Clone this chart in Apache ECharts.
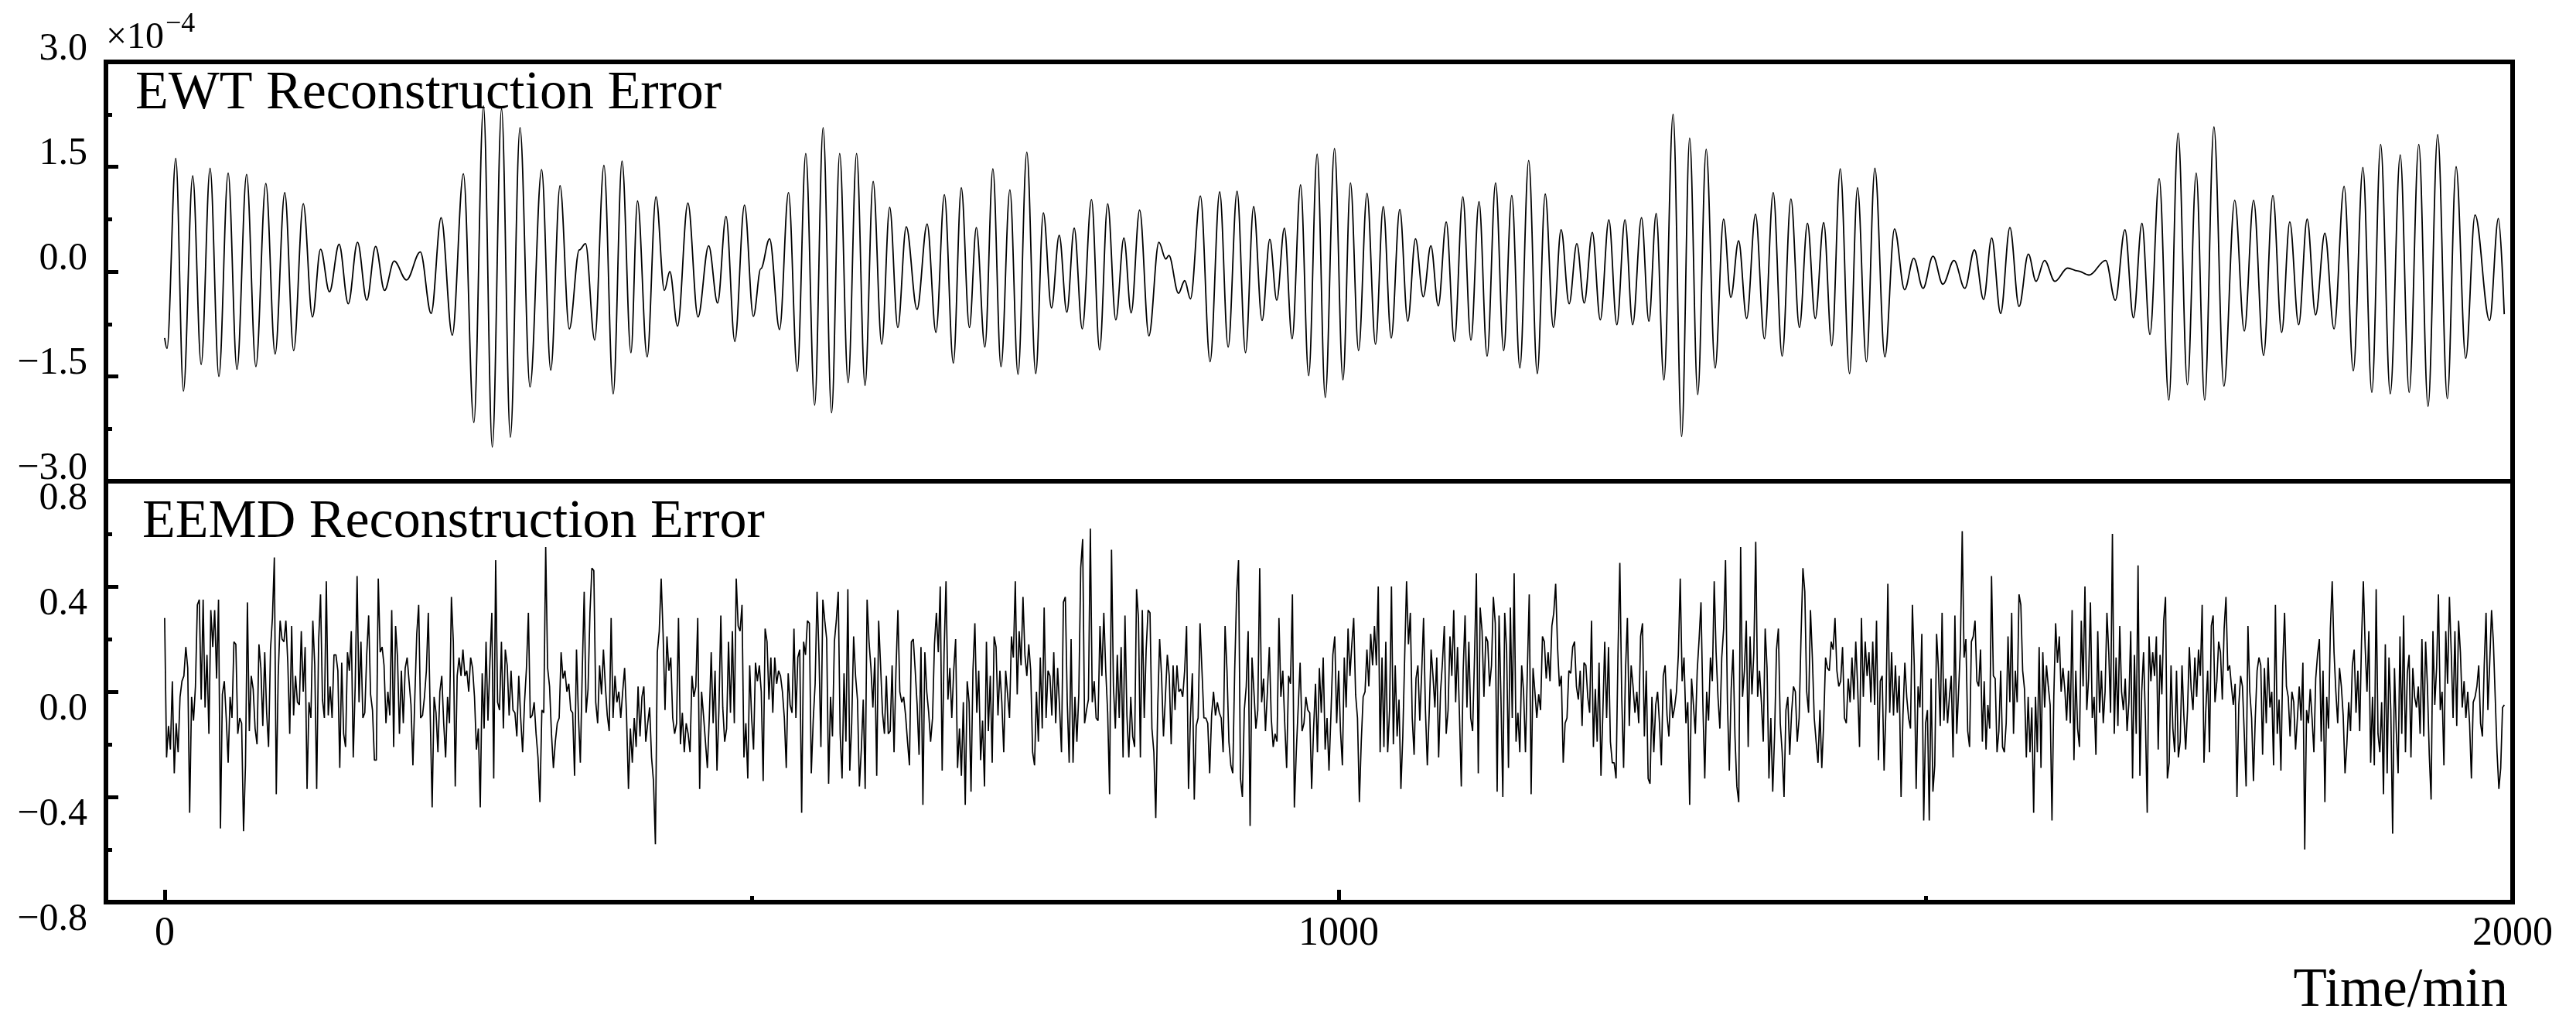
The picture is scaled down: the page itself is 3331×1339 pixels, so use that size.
<!DOCTYPE html>
<html>
<head>
<meta charset="utf-8">
<script src="https://cdn.jsdelivr.net/npm/echarts@6/dist/echarts.min.js"></script>
<style>html,body{margin:0;padding:0;background:#fff}#c{width:3331px;height:1339px}</style>
</head>
<body>
<div id="c"></div>
<script>
// ---- EWT reconstruction error (x1e-4): extrema of the oscillation ----
const ewtTime = [0, 2, 9.5, 16, 23.9, 31.1, 38.7, 46.2, 54.1, 61.6, 69.8, 77.7, 86.2, 94.1, 102.3, 109.9, 118.1, 125.9, 132.8, 140.4, 148.6, 156.4, 164.3, 172.2, 179.7, 187.3, 195.5, 206, 217.8, 227, 235.5, 245, 254.5, 263.4, 271.6, 279.1, 287, 294.5, 302.7, 311.2, 321.1, 328.9, 336.8, 344.7, 353.2, 358.5, 366.3, 374.2, 382.1, 389.6, 397.2, 402.8, 411, 418.5, 425.7, 430.3, 436.9, 445.7, 454.3, 463.4, 471, 478.2, 485.7, 493.9, 501.5, 507.8, 515.3, 523.8, 531.4, 538.9, 546.1, 553.7, 560.9, 568.1, 575, 582.2, 589.4, 596.6, 603.5, 610.8, 617.6, 624.5, 631.7, 640.9, 649.5, 657, 664.2, 671.8, 678.6, 685.5, 691.4, 698.7, 705.5, 712.4, 720, 726.9, 734.4, 742, 748.5, 755.4, 762, 768.5, 774.8, 781.6, 789.5, 796.4, 803.3, 810.2, 817.1, 823.3, 830.5, 838.4, 846.9, 852.8, 855.4, 863.6, 868.9, 873.8, 882.3, 890.5, 898.7, 905.9, 913.5, 920.7, 927.6, 934.8, 941.4, 947.3, 953.8, 960.4, 967.6, 974.5, 981.7, 988.6, 996.5, 1003.7, 1010.1, 1017, 1024.2, 1031.4, 1038, 1044.8, 1052.1, 1058.9, 1065.5, 1072.1, 1078.6, 1084.9, 1091.7, 1098.6, 1105.8, 1112.7, 1119.6, 1126.5, 1133.7, 1140.6, 1147.5, 1154.4, 1161.9, 1169.2, 1176, 1182.9, 1189.5, 1196.4, 1202.9, 1209.2, 1216.1, 1222.9, 1230.2, 1237, 1243.9, 1250.5, 1258, 1264.3, 1270.5, 1277.1, 1284.9, 1292.2, 1299, 1305.9, 1313.1, 1320.7, 1327.9, 1334.1, 1340.7, 1347.6, 1355.1, 1362.7, 1370.2, 1377.8, 1385.3, 1392.5, 1399.4, 1406, 1413.2, 1420.1, 1427.3, 1435.2, 1442, 1449.6, 1456.8, 1465.3, 1473.5, 1482.1, 1489.9, 1497.8, 1506.3, 1514.7, 1524.2, 1533.4, 1541.6, 1549.4, 1556.3, 1563.9, 1571.8, 1579.6, 1587.5, 1594.1, 1601.3, 1610.1, 1621, 1629.5, 1639.3, 1653.4, 1661.6, 1669.8, 1677, 1684.3, 1691.1, 1699, 1707.2, 1715.1, 1723, 1730.5, 1737.7, 1745.6, 1754.1, 1763.3, 1771.5, 1779.4, 1787.9, 1795.8, 1803.3, 1810.2, 1817.8, 1825, 1832.2, 1840.1, 1847.9, 1856.5, 1864.3, 1872.5, 1880.1, 1887.6, 1895.8, 1904.3, 1911.9, 1920.1, 1928, 1936.2, 1944.4, 1951.9, 1960.1, 1968, 1980.4, 1987.9, 1992.9];
const ewtValue = [-0.95, -1.10, 1.62, -1.71, 1.37, -1.33, 1.48, -1.50, 1.41, -1.40, 1.39, -1.36, 1.26, -1.18, 1.13, -1.13, 0.97, -0.65, 0.32, -0.29, 0.39, -0.46, 0.42, -0.41, 0.36, -0.27, 0.15, -0.12, 0.28, -0.60, 0.77, -0.91, 1.40, -2.16, 2.37, -2.51, 2.33, -2.37, 2.06, -1.65, 1.46, -1.41, 1.23, -0.82, 0.31, 0.40, -0.98, 1.52, -1.75, 1.58, -1.16, 1.01, -1.22, 1.07, -0.27, 0.00, -0.78, 0.98, -0.65, 0.37, -0.45, 0.79, -1.00, 0.95, -0.64, 0.04, 0.47, -0.83, 1.13, -1.43, 1.69, -1.91, 2.06, -2.02, 1.69, -1.59, 1.69, -1.63, 1.29, -1.04, 0.92, -0.80, 0.64, -0.54, 0.68, -0.87, 1.10, -1.31, 1.20, -0.80, 0.63, -1.08, 1.47, -1.36, 1.17, -1.47, 1.71, -1.46, 0.84, -0.52, 0.52, -0.58, 0.62, -0.82, 1.03, -1.12, 0.97, -0.69, 0.48, -0.59, 0.88, -0.92, 0.42, 0.18, 0.23, -0.31, -0.13, -0.39, 1.08, -1.29, 1.14, -1.08, 1.15, -1.16, 0.93, -0.70, 0.46, -0.41, 0.62, -0.96, 1.24, -1.49, 1.68, -1.80, 1.76, -1.55, 1.27, -1.13, 1.12, -1.04, 0.93, -0.95, 0.89, -0.71, 0.47, -0.36, 0.37, -0.49, 0.71, -1.00, 1.07, -0.98, 1.00, -1.21, 1.27, -1.13, 1.09, -1.38, 1.59, -1.46, 1.11, -0.80, 0.60, -0.46, 0.40, -0.45, 0.56, -0.69, 0.74, -0.76, 0.74, -0.76, 0.77, -0.71, 0.83, -1.55, 2.25, -2.36, 1.91, -1.76, 1.75, -1.38, 0.75, -0.37, 0.44, -0.67, 0.82, -0.96, 1.13, -1.21, 1.04, -0.80, 0.69, -0.67, 0.70, -1.06, 1.47, -1.46, 1.20, -1.29, 1.48, -1.22, 0.61, -0.26, 0.19, -0.24, 0.22, -0.18, 0.16, -0.24, 0.31, -0.40, 0.48, -0.60, 0.63, -0.50, 0.25, -0.14, 0.16, -0.14, 0.05, 0.01, -0.05, 0.16, -0.41, 0.60, -0.66, 0.69, -0.90, 1.33, -1.84, 1.98, -1.62, 1.41, -1.84, 2.07, -1.64, 1.02, -0.85, 1.02, -1.20, 1.09, -0.87, 0.71, -0.76, 0.75, -0.62, 0.55, -0.82, 1.22, -1.42, 1.49, -1.73, 1.82, -1.75, 1.67, -1.73, 1.82, -1.93, 1.96, -1.82, 1.50, -1.24, 0.81, -0.70, 0.76, -0.61];

// ---- EEMD reconstruction error: values read quarter by quarter (0-500, 500-1000, 1000-1500, 1500-2000 min) ----
const eemdQ1 = [0.28,-0.25,-0.13,-0.22,0.04,-0.31,-0.12,-0.23,-0.02,0.04,0.06,0.17,0.09,-0.46,-0.02,-0.11,0.02,0.33,0.35,-0.03,0.35,-0.06,0.14,-0.16,0.31,0.17,0.31,0.05,0.35,-0.52,-0.01,0.04,-0.10,-0.27,-0.02,-0.10,0.19,0.18,-0.16,-0.10,-0.12,-0.53,-0.28,0.34,-0.15,0.06,0.01,-0.14,-0.20,0.18,0.09,-0.13,0.15,-0.08,-0.21,0.16,0.28,0.51,-0.39,0.06,0.27,0.20,0.19,0.27,0.11,-0.16,0.25,-0.09,0.06,-0.04,-0.05,0.23,0.00,0.17,-0.37,-0.04,-0.10,0.27,0.10,-0.37,0.19,0.37,-0.03,-0.10,0.42,-0.09,0.02,-0.10,0.14,0.14,0.08,-0.29,0.11,-0.16,-0.21,0.15,0.08,0.23,-0.25,0.02,0.44,-0.04,0.19,-0.10,-0.08,0.14,0.29,-0.01,-0.07,-0.26,-0.26,0.43,0.15,0.17,0.10,-0.12,0.00,-0.09,0.31,-0.21,0.25,0.13,-0.16,0.08,-0.12,0.09,0.13,0.04,-0.05,-0.28,-0.02,0.22,0.33,-0.10,-0.09,-0.02,0.08,0.30,-0.09,-0.44,-0.02,-0.08,-0.23,0.00,0.06,-0.12,-0.25,-0.02,-0.12,0.36,0.19,-0.36,0.06,0.13,0.06,0.16,0.06,0.08,0.00,0.13,0.09,-0.02,-0.22,-0.14,-0.44,0.07,-0.14,0.19,-0.11,0.11,0.30,-0.33,0.50,-0.04,-0.07,0.19,-0.14,0.16,0.10,-0.09,0.08,-0.07,-0.08,-0.17,0.06,-0.10,-0.23,-0.04,0.09,0.30,-0.10,-0.09,-0.04,-0.16,-0.25,-0.42,-0.07,-0.08,0.55,0.09,0.02,-0.16,-0.29,-0.19,-0.12,-0.10,0.15,0.05,0.08,0.00,0.03,-0.07,-0.08,-0.32,0.16,-0.09,-0.27,0.08,0.38,-0.08,0.01,0.30,0.47,0.46,-0.04,-0.12,0.10,-0.01,0.16,0.02,-0.09,-0.15,0.28,-0.10,0.06,-0.04,0.00,-0.10,0.00,0.09,-0.09,-0.37,-0.14,-0.27,-0.10,-0.21,0.02,-0.17,-0.02,0.02,-0.19,-0.12,-0.06,-0.25,-0.34,-0.58,0.15,0.23,0.43,0.22,-0.07,0.21,0.08,0.13,-0.10,-0.16,-0.12,0.28,-0.20,-0.08,-0.23,-0.12,-0.16,-0.23,0.06,-0.02,0.02,0.28,-0.37,0.00,-0.09,-0.19,-0.29,-0.10,0.15,-0.12,0.08,-0.30,-0.07,0.29,-0.06,-0.19,-0.14,0.19,-0.08,0.23,-0.12,0.43,0.25,0.23,0.33,-0.25,-0.12,-0.33,0.10,-0.10];
const eemdQ2 = [0.10,-0.22,0.11,0.04,0.10,0.00,-0.34,0.24,0.19,-0.03,0.13,-0.08,0.13,0.03,0.08,0.06,0.00,-0.10,-0.29,0.07,-0.05,-0.08,0.24,-0.10,0.13,0.16,-0.46,0.19,0.14,0.27,0.26,-0.31,-0.11,0.03,0.38,0.14,-0.21,0.35,0.27,0.20,-0.35,-0.02,-0.17,0.19,0.27,0.38,-0.16,-0.33,0.07,-0.19,0.39,-0.30,-0.12,0.21,0.06,-0.03,-0.36,-0.22,-0.03,-0.37,0.35,0.19,0.09,-0.06,0.13,-0.32,0.27,0.10,-0.08,-0.16,0.06,-0.16,-0.15,0.10,-0.23,0.08,0.31,0.00,-0.04,-0.02,-0.09,-0.19,-0.28,0.19,0.20,0.08,-0.05,-0.24,0.17,-0.43,0.15,0.00,-0.08,-0.19,-0.10,0.18,0.30,0.15,0.40,-0.30,0.15,0.42,-0.03,0.09,-0.10,0.08,0.20,-0.29,-0.14,-0.32,-0.04,-0.43,0.04,-0.04,-0.38,0.08,0.26,-0.08,0.08,-0.26,-0.11,-0.36,0.19,-0.15,0.06,-0.27,0.21,0.17,-0.09,0.08,-0.04,-0.23,0.08,-0.01,-0.10,0.21,0.13,0.42,-0.01,0.23,0.10,0.36,0.14,0.06,0.18,0.08,-0.23,-0.28,0.00,-0.19,0.13,-0.14,0.32,-0.10,0.08,0.06,-0.09,0.15,-0.12,0.09,-0.06,-0.23,0.34,0.36,-0.04,-0.27,0.20,-0.27,-0.02,-0.19,-0.01,0.47,0.58,-0.12,-0.07,-0.03,0.62,-0.04,0.04,-0.10,-0.11,0.25,0.06,0.30,0.08,-0.08,-0.39,0.54,0.02,-0.14,0.14,-0.10,0.17,-0.25,0.29,-0.09,-0.25,-0.02,-0.17,-0.21,0.39,0.28,-0.25,0.31,-0.10,0.16,0.31,0.30,-0.14,-0.23,-0.48,-0.06,0.20,0.06,-0.17,-0.02,0.14,0.06,-0.20,0.10,-0.07,0.10,0.00,0.01,-0.02,0.08,0.25,-0.37,-0.10,0.07,-0.41,-0.13,-0.10,0.26,0.08,-0.10,-0.10,-0.12,-0.31,-0.09,0.00,-0.09,-0.04,-0.08,-0.10,-0.23,0.25,0.08,-0.19,-0.28,-0.31,0.08,0.37,0.50,-0.33,-0.40,-0.07,0.02,0.23,-0.51,0.13,0.00,-0.14,-0.07,0.47,-0.04,0.05,-0.15,0.00,0.17,-0.10,-0.21,-0.16,-0.19,0.28,-0.02,0.08,-0.12,-0.29,0.06,0.03,0.37,-0.44,-0.23,-0.06,0.11,-0.15,-0.12,-0.02,-0.07,-0.08,-0.37,-0.14,0.03,-0.23,0.09,-0.08,0.13,-0.22,-0.10,-0.30,-0.09,0.14,0.21,-0.12,0.08];
const eemdQ3 = [0.06,-0.15,-0.28,0.13,-0.06,0.24,0.06,0.18,0.28,-0.01,-0.10,-0.42,-0.19,-0.02,0.00,0.16,0.02,0.22,0.10,0.25,0.10,0.40,-0.23,0.13,-0.21,0.19,-0.23,-0.07,0.40,-0.20,0.10,-0.17,-0.03,-0.37,-0.17,0.13,0.42,0.18,0.30,-0.10,-0.24,0.05,0.10,-0.11,0.07,0.28,-0.07,-0.28,-0.08,0.16,0.06,-0.06,0.13,-0.25,0.00,0.11,0.25,-0.16,-0.07,0.21,0.06,0.31,-0.04,0.17,-0.08,-0.36,0.08,0.29,-0.06,0.19,-0.10,-0.15,0.13,0.45,-0.31,0.32,0.23,-0.02,0.21,0.19,0.02,0.10,0.36,0.26,-0.38,0.29,-0.02,-0.40,0.30,0.16,-0.29,0.32,-0.10,0.45,-0.19,-0.08,-0.23,0.10,0.00,-0.23,0.08,0.37,-0.39,0.09,0.00,-0.10,-0.01,-0.07,0.21,0.19,0.05,0.15,0.04,0.25,0.30,0.41,0.17,0.02,0.06,-0.27,-0.12,-0.10,0.08,0.07,0.17,0.19,0.02,-0.03,0.08,-0.13,0.11,0.10,-0.02,-0.08,0.27,-0.21,0.01,-0.19,0.11,-0.32,-0.08,0.19,-0.10,0.17,-0.19,-0.27,-0.27,-0.33,0.14,0.49,-0.02,-0.29,0.08,0.28,-0.13,0.10,0.02,-0.08,0.00,-0.12,0.21,0.26,-0.17,0.08,-0.33,-0.35,-0.02,-0.23,-0.05,0.00,-0.12,-0.28,0.06,0.10,-0.09,-0.17,0.01,-0.10,-0.06,0.00,0.14,0.43,0.04,0.13,-0.12,-0.04,-0.43,0.05,-0.05,-0.16,0.08,0.20,0.34,-0.05,-0.33,0.00,-0.11,0.13,0.04,0.42,0.15,-0.02,-0.14,0.13,0.24,0.50,-0.04,-0.30,0.01,0.16,-0.17,-0.36,-0.42,0.55,-0.02,0.08,0.27,-0.21,0.21,-0.01,0.15,0.57,-0.02,0.08,-0.04,-0.19,0.24,0.09,-0.33,-0.10,-0.38,-0.16,0.16,0.24,-0.12,-0.23,-0.40,-0.07,-0.02,-0.24,-0.08,0.02,0.00,-0.19,-0.10,0.21,0.47,0.38,0.00,-0.08,0.31,0.13,-0.10,-0.19,-0.27,-0.07,-0.29,-0.12,0.13,0.09,0.08,0.19,0.16,0.28,0.08,0.02,0.04,0.17,-0.10,-0.12,0.05,-0.04,0.13,-0.03,0.19,0.02,-0.21,0.28,-0.02,0.19,0.06,0.15,-0.04,0.19,-0.05,0.27,-0.26,0.04,0.06,-0.30,-0.06,0.41,-0.08,0.15,-0.09,0.10,-0.08,0.06,-0.40,-0.09,0.11,-0.02,-0.10,-0.14,0.33,0.10,-0.37,0.02,-0.06,0.22,-0.49,-0.12];
const eemdQ4 = [0.11,-0.07,-0.49,0.05,-0.38,-0.28,0.22,0.09,-0.13,0.30,-0.11,0.05,-0.12,-0.02,0.06,-0.25,0.29,-0.16,0.00,0.17,0.61,0.13,0.20,-0.15,-0.21,0.19,0.21,0.27,0.04,0.02,0.16,-0.19,0.04,-0.22,-0.05,-0.14,0.44,0.06,0.05,-0.23,-0.15,0.08,-0.21,-0.23,-0.12,0.21,-0.04,0.30,-0.16,0.08,-0.04,0.37,0.33,0.08,0.01,-0.25,-0.02,-0.23,-0.06,-0.46,-0.02,-0.23,0.17,-0.29,0.15,-0.06,0.10,0.02,-0.05,-0.49,-0.02,0.26,0.11,0.21,0.00,0.09,0.01,-0.11,0.08,-0.12,0.31,-0.26,0.08,-0.14,-0.21,0.27,0.02,0.40,-0.07,0.05,0.34,-0.10,-0.02,-0.24,0.23,-0.08,0.08,-0.12,0.00,0.30,0.15,-0.08,0.60,-0.16,0.13,-0.13,0.25,0.00,-0.07,0.05,-0.15,-0.04,0.23,-0.33,0.14,-0.16,0.48,-0.32,0.00,0.15,-0.10,-0.46,0.21,0.04,0.15,0.06,0.21,-0.22,0.14,-0.01,0.27,0.36,-0.33,-0.27,0.10,-0.14,-0.23,0.08,-0.25,-0.19,0.10,-0.09,-0.22,-0.07,0.17,0.01,-0.07,0.13,-0.02,0.16,0.06,0.33,-0.27,-0.07,0.08,-0.23,0.25,0.29,-0.04,0.04,0.19,0.15,-0.03,0.24,0.36,0.08,0.10,0.02,-0.05,0.03,-0.40,-0.05,0.06,0.02,-0.16,-0.36,0.25,0.00,-0.10,-0.34,-0.10,0.08,0.13,0.10,-0.24,0.09,-0.12,0.13,-0.06,0.00,-0.28,0.33,-0.16,-0.03,-0.30,0.10,0.30,0.02,-0.02,-0.17,0.00,-0.04,-0.22,-0.10,0.02,-0.11,0.11,-0.60,-0.07,-0.12,0.01,-0.10,-0.23,0.05,0.14,0.20,-0.19,0.08,-0.42,-0.02,-0.14,0.24,0.42,0.15,0.00,-0.12,0.09,0.02,-0.09,-0.31,-0.20,-0.04,-0.15,0.10,0.16,-0.08,0.08,-0.15,0.19,0.42,0.17,0.00,0.23,-0.27,-0.02,-0.28,0.39,-0.16,-0.23,-0.04,-0.39,0.18,-0.31,0.13,-0.07,-0.54,0.09,-0.15,-0.31,0.21,-0.16,0.29,-0.23,0.07,0.14,-0.25,0.09,-0.02,-0.06,0.02,-0.16,0.20,-0.17,0.19,0.02,-0.24,-0.41,0.23,-0.05,0.09,0.37,-0.07,0.00,-0.28,0.23,0.03,0.36,0.15,-0.10,0.23,-0.13,0.27,0.15,-0.06,0.04,-0.10,0.00,-0.12,-0.33,-0.04,-0.02,0.02,0.10,-0.12,-0.17,0.10,0.30,-0.07,0.11,0.31,0.19,-0.02,-0.23,-0.37,-0.29,-0.06,-0.05];
const eemdSpans = [[0, 500], [500, 1000], [1000, 1500], [1500, 1993]];

// ---- axis texts ----
const xTickLabels = [0, 1000, 2000];
const xMinorTicks = [500, 1500];
const topTitle = 'EWT Reconstruction Error';
const bottomTitle = 'EEMD Reconstruction Error';
const xName = 'Time/min';

// build the data pairs
const ewtData = ewtTime.map((t, i) => [t, ewtValue[i]]);
const eemdData = [];
[eemdQ1, eemdQ2, eemdQ3, eemdQ4].forEach((arr, q) => {
  const [t0, t1] = eemdSpans[q];
  const step = (t1 - t0) / (arr.length - 1);
  arr.forEach((v, i) => { if (q === 0 || i > 0) eemdData.push([t0 + i * step, v]); });
});

const FONT = '"Liberation Serif", "Times New Roman", serif';
const fmt = v => (v < 0 ? '\u2212' : '') + Math.abs(v).toFixed(1);

const chart = echarts.init(document.getElementById('c'), null, {renderer: 'canvas'});
const tickStyle = {color: '#000', width: 5};
const noLine = {show: false, onZero: false};
chart.setOption({
  animation: false,
  backgroundColor: '#fff',
  grid: [
    {left: 137, top: 80, width: 3112, height: 542, show: true, borderColor: '#000', borderWidth: 6, backgroundColor: 'rgba(0,0,0,0)', containLabel: false},
    {left: 137, top: 622, width: 3112, height: 544, show: true, borderColor: '#000', borderWidth: 6, backgroundColor: 'rgba(0,0,0,0)', containLabel: false}
  ],
  xAxis: [
    {gridIndex: 0, type: 'value', min: -50, max: 2000, show: false, axisLine: noLine},
    {gridIndex: 1, type: 'value', min: -50, max: 2000, position: 'bottom',
     axisLine: noLine, splitLine: {show: false},
     axisTick: {show: true, inside: true, length: 16, lineStyle: tickStyle, customValues: xTickLabels},
     axisLabel: {customValues: xTickLabels, formatter: v => String(v), fontSize: 52, fontFamily: FONT, color: '#000', margin: 41, verticalAlign: 'middle'}},
    {gridIndex: 1, type: 'value', min: -50, max: 2000, position: 'bottom',
     axisLine: noLine, splitLine: {show: false}, axisLabel: {show: false},
     axisTick: {show: true, inside: true, length: 8, lineStyle: tickStyle, customValues: xMinorTicks}}
  ],
  yAxis: [
    {gridIndex: 0, type: 'value', min: -3, max: 3, interval: 1.5, position: 'left',
     axisLine: noLine, splitLine: {show: false},
     axisTick: {show: true, inside: true, length: 16, lineStyle: tickStyle},
     minorTick: {show: true, splitNumber: 2, length: 8, lineStyle: tickStyle},
     axisLabel: {formatter: fmt, fontSize: 50, fontFamily: FONT, color: '#000', margin: 24, verticalAlign: 'bottom', lineHeight: 33}},
    {gridIndex: 1, type: 'value', min: -0.8, max: 0.8, interval: 0.4, position: 'left',
     axisLine: noLine, splitLine: {show: false},
     axisTick: {show: true, inside: true, length: 16, lineStyle: tickStyle},
     minorTick: {show: true, splitNumber: 2, length: 8, lineStyle: tickStyle},
     axisLabel: {formatter: fmt, fontSize: 50, fontFamily: FONT, color: '#000', margin: 24, verticalAlign: 'top', lineHeight: 45}}
  ],
  graphic: [
    {type: 'text', x: 175, y: 122, silent: true, style: {text: topTitle, font: '70px ' + FONT, fill: '#000', verticalAlign: 'middle', textVerticalAlign: 'middle'}},
    {type: 'text', x: 184, y: 676, silent: true, style: {text: bottomTitle, font: '70px ' + FONT, fill: '#000', verticalAlign: 'middle', textVerticalAlign: 'middle'}},
    {type: 'text', x: 3243, y: 1281, silent: true, style: {text: xName, font: '71px ' + FONT, fill: '#000', align: 'right', textAlign: 'right', verticalAlign: 'middle', textVerticalAlign: 'middle'}},
    {type: 'text', x: 137, y: 49, silent: true, style: {text: '\u00d710', font: '48px ' + FONT, fill: '#000', verticalAlign: 'middle', textVerticalAlign: 'middle'}},
    {type: 'text', x: 214, y: 32, silent: true, style: {text: '\u22124', font: '36px ' + FONT, fill: '#000', verticalAlign: 'middle', textVerticalAlign: 'middle'}}
  ],
  series: [
    {type: 'line', xAxisIndex: 0, yAxisIndex: 0, data: ewtData, showSymbol: false, symbol: 'none',
     smooth: 0.36, smoothMonotone: 'x', lineStyle: {color: '#000', width: 1.8}, silent: true},
    {type: 'line', xAxisIndex: 1, yAxisIndex: 1, data: eemdData, showSymbol: false, symbol: 'none',
     smooth: false, lineStyle: {color: '#000', width: 1.7}, silent: true}
  ]
});
</script>
</body>
</html>
